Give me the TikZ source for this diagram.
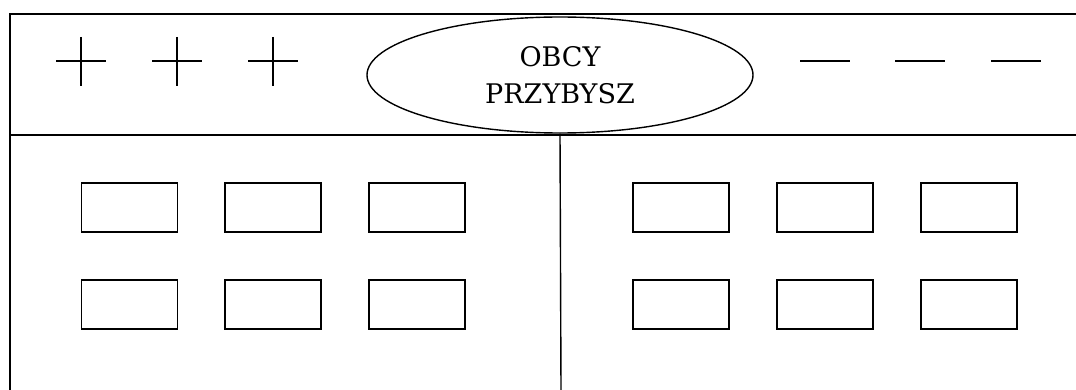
\documentclass[tikz,border=0pt]{standalone}
\usepackage{fontspec}
\setmainfont{DejaVu Serif}
\usetikzlibrary{shapes.geometric}
\tikzset{box/.style={draw, minimum width=48pt, minimum height=24.5pt, inner sep=0pt},
  sign/.style={line width=0.7pt}}

\begin{document}
\begin{tikzpicture}[x=0.5pt, y=-0.5pt, line width=0.7pt]
\useasboundingbox (0,0) rectangle (1076,390);
\coordinate (tl) at (10,14);
\coordinate (tr) at (1076,14);
\coordinate (bl) at (10,390);
\coordinate (ml) at (10,135);
\coordinate (mr) at (1076,135);
\coordinate (bm) at (561,390);

\node[draw, ellipse, minimum width=193pt, minimum height=58pt, align=center, font=\fontsize{13.5}{18.5}\selectfont] (stranger) at (560,75) {OBCY\\PRZYBYSZ};

% frame
\draw (tr) -- (tl) -- (bl);
\draw (ml) -- (mr);
\draw (stranger.south) -- (bm);

% plus and minus
\foreach \x/\n in {81/1,177/2,273/3} {
  \draw[sign] (\x-25,61) -- (\x+25,61) (\x,37) -- (\x,86);
}
\foreach \x/\n in {825/1,920/2,1016/3} {
  \draw[sign] (\x-25,61) -- (\x+25,61);
}

% boxes
\foreach \x/\n in {129.5/1,273/2,417/3,681/4,825/5,969/6} {
  \node[box] (top-\n) at (\x,207.5) {};
  \node[box] (bot-\n) at (\x,304.5) {};
}
\end{tikzpicture}
\end{document}
